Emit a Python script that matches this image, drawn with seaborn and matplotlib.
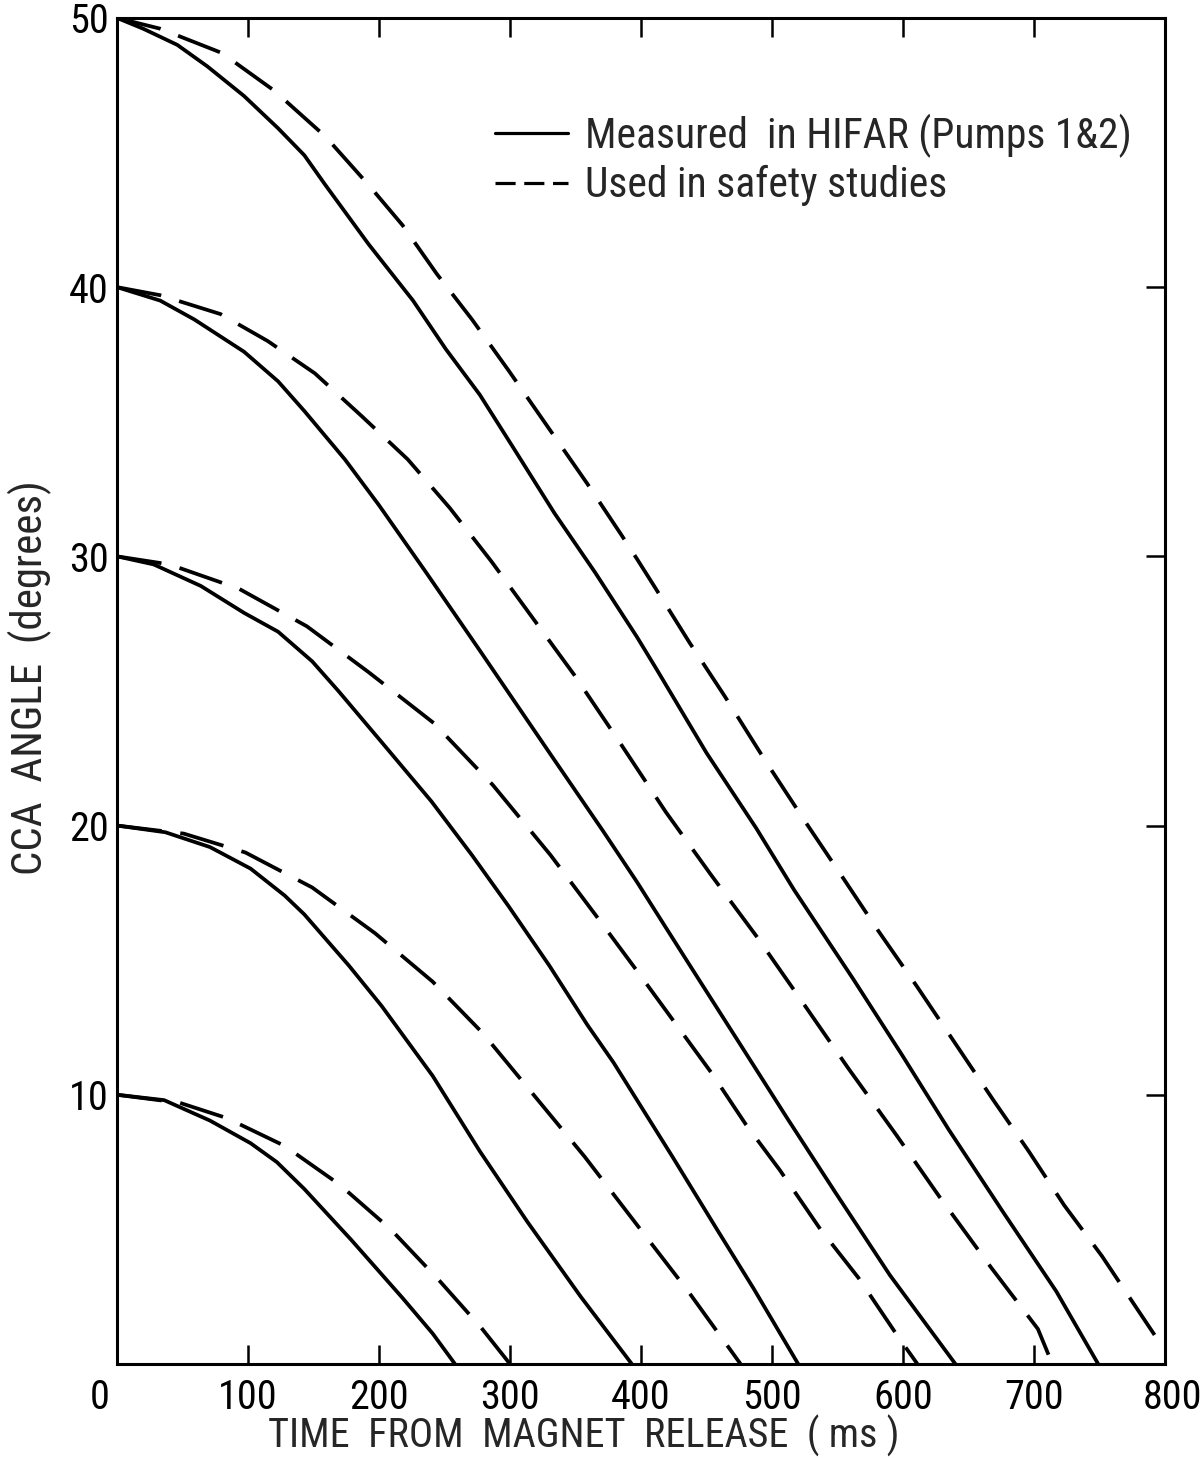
import numpy as np
import pandas as pd
import matplotlib
matplotlib.use("Agg")
import matplotlib.pyplot as plt
from matplotlib.lines import Line2D
from matplotlib.transforms import ScaledTranslation
from matplotlib import font_manager
import seaborn as sns

# ---------------- data ----------------
# Measured in HIFAR (solid)
t_meas_10 = [0, 36, 71, 102, 122, 143, 179, 218, 241, 258]
a_meas_10 = [10, 9.8, 9.04, 8.2, 7.5, 6.5, 4.6, 2.45, 1.13, 0]

t_meas_20 = [0, 37, 71, 102, 128, 143, 177, 202, 241, 277, 313, 354, 393]
a_meas_20 = [20, 19.75, 19.2, 18.4, 17.4, 16.7, 14.8, 13.3, 10.7, 7.9, 5.3, 2.5, 0]

t_meas_30 = [0, 28, 64, 97, 123, 149, 169, 202, 240, 271, 299, 330, 359, 379, 397, 424, 458, 486, 520]
a_meas_30 = [30, 29.7, 28.9, 27.9, 27.2, 26.1, 25.0, 23.1, 20.9, 18.9, 17.0, 14.8, 12.6, 11.2, 9.8, 7.7, 5.0, 2.8, 0]

t_meas_40 = [0, 33, 59, 97, 123, 143, 174, 200, 236, 277, 333, 371, 397, 410, 440, 478, 512, 548, 590, 640]
a_meas_40 = [40, 39.5, 38.8, 37.6, 36.5, 35.4, 33.6, 31.9, 29.4, 26.5, 22.5, 19.8, 17.9, 16.9, 14.6, 11.7, 9.1, 6.4, 3.3, 0]

t_meas_50 = [0, 20, 46, 69, 97, 123, 143, 159, 192, 226, 251, 277, 303, 334, 365, 397, 412, 450, 488, 517, 562, 599, 635, 677, 717, 749]
a_meas_50 = [50, 49.6, 49.0, 48.2, 47.1, 45.9, 44.9, 43.8, 41.6, 39.5, 37.7, 36.0, 34.0, 31.6, 29.4, 27.0, 25.8, 22.7, 19.9, 17.6, 14.3, 11.5, 8.7, 5.6, 2.7, 0]

# Used in safety studies (dashed)
t_used_10 = [0, 48, 84, 128, 170, 209, 246, 278, 300]
a_used_10 = [10, 9.7, 9.13, 8.1, 6.66, 5.0, 3.1, 1.35, 0]

t_used_20 = [0, 51, 98, 149, 197, 241, 279, 318, 357, 398, 436, 476]
a_used_20 = [20, 19.7, 19.0, 17.7, 16.0, 14.2, 12.3, 10.0, 7.7, 5.1, 2.7, 0]

t_used_30 = [0, 40, 93, 145, 192, 242, 287, 331, 365, 397, 424, 454, 480, 506, 537, 566, 597, 611]
a_used_30 = [30, 29.7, 28.8, 27.4, 25.7, 23.8, 21.5, 18.9, 16.7, 14.6, 12.8, 10.8, 8.9, 7.2, 5.0, 3.2, 0.96, 0]

t_used_40 = [0, 33, 79, 115, 151, 187, 222, 254, 286, 316, 349, 385, 419, 453, 488, 521, 558, 595, 628, 667, 703, 714]
a_used_40 = [40, 39.7, 39.0, 38.0, 36.8, 35.2, 33.6, 31.8, 29.8, 27.8, 25.6, 23.0, 20.5, 18.2, 15.9, 13.6, 11.0, 8.5, 6.2, 3.6, 1.3, 0]

t_used_50 = [0, 33, 80, 120, 159, 192, 218, 244, 271, 299, 329, 359, 385, 397, 410, 437, 464, 495, 526, 555, 581, 611, 640, 669, 696, 723, 752, 778, 800]
a_used_50 = [50, 49.6, 48.7, 47.3, 45.6, 43.8, 42.3, 40.5, 38.8, 36.9, 34.8, 32.7, 30.8, 29.9, 28.9, 26.8, 24.8, 22.4, 20.1, 18.0, 16.1, 14.0, 11.9, 9.8, 7.9, 5.9, 4.0, 2.1, 0.5]

x_ticks = [0, 100, 200, 300, 400, 500, 600, 700, 800]
y_ticks = [10, 20, 30, 40, 50]
label_meas = "Measured  in HIFAR (Pumps 1&2)"
label_used = "Used in safety studies"
x_title = "TIME  FROM  MAGNET  RELEASE  ( ms )"
y_title = "CCA  ANGLE  (degrees)"

# ---------------- long-form table ----------------
rows = []
series = [
    ("m10", label_meas, t_meas_10, a_meas_10),
    ("m20", label_meas, t_meas_20, a_meas_20),
    ("m30", label_meas, t_meas_30, a_meas_30),
    ("m40", label_meas, t_meas_40, a_meas_40),
    ("m50", label_meas, t_meas_50, a_meas_50),
    ("u10", label_used, t_used_10, a_used_10),
    ("u20", label_used, t_used_20, a_used_20),
    ("u30", label_used, t_used_30, a_used_30),
    ("u40", label_used, t_used_40, a_used_40),
    ("u50", label_used, t_used_50, a_used_50),
]
for cid, kind, ts, ys in series:
    for t, y in zip(ts, ys):
        rows.append({"curve": cid, "kind": kind, "time": t, "angle": y})
df = pd.DataFrame(rows)

# ---------------- style ----------------
sns.set_style("ticks")


def pick_font():
    for name in ["Roboto Condensed", "Liberation Sans Narrow", "DejaVu Sans"]:
        try:
            font_manager.findfont(name, fallback_to_default=False)
            return name
        except Exception:
            pass
    return "DejaVu Sans"


FONT = pick_font()
plt.rcParams["font.family"] = [FONT, "DejaVu Sans"]

fig = plt.figure(figsize=(12.01, 14.58), dpi=100)
ax = fig.add_axes([0.0974, 0.0645, 0.8726, 0.9232])

LW = 2.7
sns.lineplot(
    data=df, x="time", y="angle", units="curve", style="kind",
    estimator=None, sort=False, color="black", linewidth=LW,
    dashes={label_meas: "", label_used: (12, 5)},
    legend=False, ax=ax,
)
for ln in ax.get_lines():
    ln.set_solid_joinstyle("round")
    ln.set_dash_joinstyle("round")

ax.set_xlim(0, 800)
ax.set_ylim(0, 50)
ax.set_xticks(x_ticks)
ax.set_xticklabels([str(v) for v in x_ticks])
ax.set_yticks(y_ticks)
ax.set_yticklabels([str(v) for v in y_ticks])

for s in ax.spines.values():
    s.set_linewidth(2.2)
    s.set_color("black")

ax.tick_params(axis="x", direction="in", length=14, width=1.8, top=True,
               bottom=True, labelsize=29, pad=10, colors="black")
ax.tick_params(axis="y", direction="in", length=14, width=1.8, right=True,
               left=False, labelleft=True, labelsize=29, pad=6, colors="black")

# small horizontal offsets of the end labels as in the reference
xl = ax.get_xticklabels()
xl[0].set_transform(xl[0].get_transform() + ScaledTranslation(-0.17, 0, fig.dpi_scale_trans))
xl[-1].set_transform(xl[-1].get_transform() + ScaledTranslation(0.08, 0, fig.dpi_scale_trans))

ax.set_xlabel(x_title, fontsize=29, va="center")
ax.set_ylabel(y_title, fontsize=31)
ax.xaxis.set_label_coords(0.445, -0.0535)
ax.yaxis.set_label_coords(-0.062, 0.51)

handles = [
    Line2D([], [], color="black", lw=2.3, linestyle="-"),
    Line2D([], [], color="black", lw=2.3, linestyle=(0, (6.3, 2.7))),
]
leg = ax.legend(handles, [label_meas, label_used], loc="upper left",
                bbox_to_anchor=(0.361, 0.929), frameon=False, fontsize=30,
                handlelength=1.75, handletextpad=0.41, labelspacing=0.18,
                borderpad=0, borderaxespad=0)

fig.savefig("out.png", dpi=100)
